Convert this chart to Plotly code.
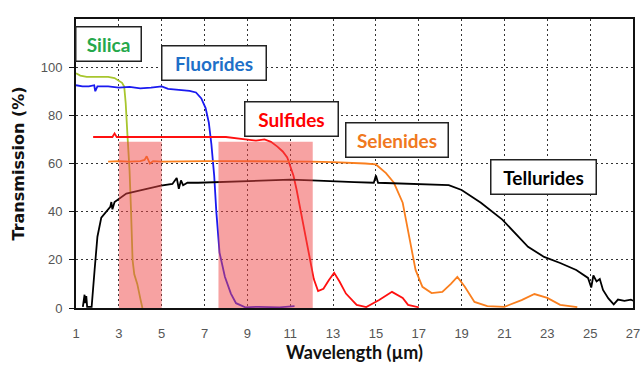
import plotly.graph_objects as go

# ---- data ----
silica_x = [1.0, 1.2, 1.5, 2.0, 2.5, 2.8, 3.0, 3.15, 3.25, 3.32, 3.4, 3.5, 3.57, 3.64, 3.72, 3.86, 4.0, 4.1]
silica_y = [97.5, 96.5, 96, 96, 96, 95.5, 94.5, 93.5, 92, 85, 72, 57, 40, 20, 14, 10, 4, 0]

fluor_x = [1.0, 1.3, 1.6, 1.85, 1.9, 2.0, 2.5, 3.0, 3.5, 4.0, 4.5, 5.0, 5.3, 5.8, 6.3, 6.6, 6.85,
           7.05, 7.2, 7.32, 7.45, 7.55, 7.7, 7.95, 8.23, 8.47, 8.9, 9.5, 10.5, 11.2]
fluor_y = [92.5, 92, 92, 92.5, 90, 92, 92, 91.5, 91.8, 91.2, 91.5, 92, 91, 90.6, 90.2, 89.5, 87,
           83, 77, 68, 55, 40, 23, 13, 6, 2, 0.3, 0.5, 0.3, 0.8]

sulf_x = [1.8, 2.3, 2.7, 2.8, 2.9, 3.2, 4.0, 5.0, 6.0, 7.0, 8.0, 8.9, 9.4, 9.8, 10.1, 10.4, 10.65,
          10.86, 11.0, 11.15, 11.3, 11.45, 11.6, 11.88, 12.1, 12.3, 12.55, 12.8, 13.05, 13.3, 13.6,
          14.1, 14.55, 15.15, 15.75, 16.25, 16.5, 17.0]
sulf_y = [71, 71, 71, 72.5, 71, 71, 71, 71, 71, 71, 71, 70, 69.5, 70, 69, 67, 65,
          62.5, 59, 55, 49, 42, 35, 23, 12, 7, 8, 11.5, 14.6, 11, 6,
          1.3, 0.4, 3.3, 6.7, 4.2, 1.3, 0.3]

selen_x = [2.5, 3.0, 3.5, 4.0, 4.2, 4.3, 4.45, 4.6, 5.0, 6.0, 7.0, 8.0, 9.0, 10.0, 11.0, 12.0, 13.0,
           13.8, 14.5, 15.0, 15.25, 15.47, 15.84, 16.25, 16.4, 16.6, 16.85, 17.17, 17.6, 18.1, 18.5,
           18.8, 19.15, 19.6, 20.2, 21.0, 21.8, 22.4, 23.0, 23.6, 24.4]
selen_y = [60.8, 61, 60.8, 61, 61.5, 63, 60, 61, 60.8, 61, 61, 61, 61, 61, 61, 60.8, 60.6,
           60.4, 60, 59.6, 57.5, 56, 52, 43.7, 36.7, 27, 15.8, 8.8, 6.2, 6.7, 10,
           12.9, 8.8, 2.5, 0.8, 0.5, 3.3, 5.8, 4.2, 1.3, 0.4]

tell_x = [1.32, 1.4, 1.42, 1.48, 1.52, 1.73, 1.87, 2.0, 2.18, 2.41, 2.6, 2.65, 2.7, 2.8, 3.35, 4.1,
          4.96, 5.5, 5.7, 5.8, 5.9, 6.0, 6.2, 6.7, 8.2, 9.5, 11.0, 12.0, 13.0, 14.0, 14.9, 15.0, 15.1,
          16.4, 17.3, 18.4, 19.0, 19.9, 20.9, 21.5, 22.1, 22.85, 23.6, 24.35, 24.9, 25.05, 25.15,
          25.3, 25.45, 25.6, 25.85, 26.1, 26.3, 26.6, 26.9, 27.0]
tell_y = [0.5, 5.5, 2, 5, 0.5, 0.5, 16, 29.6, 37.5, 40, 42, 44, 41, 44, 47.5, 49,
          50.8, 51.5, 54, 49.5, 53, 51, 52, 52, 52.5, 53, 53.3, 53, 52.5, 52.3, 52, 55, 52,
          51.7, 51.2, 51, 49, 43.7, 36.7, 31, 25.4, 21.2, 18.7, 15.8, 12.5, 8.5, 13.5,
          11, 12, 7.5, 4, 1.5, 3.5, 3, 3.5, 3]

bands_x0 = [3.0, 7.65]
bands_x1 = [5.0, 12.05]
band_top = 69

labels = ["Silica", "Fluorides", "Sulfides", "Selenides", "Tellurides"]
label_x = [2.52, 7.43, 11.05, 16.0, 22.84]
label_y = [109.8, 101.7, 78.3, 69.6, 54.6]
label_w = [64, 103, 92, 101, 104]
label_colors = ["#25A84B", "#1E70C8", "#FF0000", "#F07820", "#000000"]

x_ticks = list(range(1, 28, 2))
y_ticks = [0, 20, 40, 60, 80, 100]

# ---- figure ----
fig = go.Figure()
series = [
    (silica_x, silica_y, "#A8C62E"),
    (fluor_x, fluor_y, "#1A1AF0"),
    (sulf_x, sulf_y, "#FF1010"),
    (selen_x, selen_y, "#FA7F1E"),
    (tell_x, tell_y, "#000000"),
]
for xs, ys, c in series:
    fig.add_trace(go.Scatter(x=xs, y=ys, mode="lines", line=dict(color=c, width=1.8),
                             showlegend=False, hoverinfo="skip"))

for x0, x1 in zip(bands_x0, bands_x1):
    fig.add_shape(type="rect", xref="x", yref="y", x0=x0, x1=x1, y0=0, y1=band_top,
                  fillcolor="rgba(240,70,70,0.5)", line=dict(width=0), layer="above")

for t, x, y, w, c in zip(labels, label_x, label_y, label_w, label_colors):
    fig.add_annotation(x=x, y=y, xref="x", yref="y", text="<b>%s</b>" % t, showarrow=False,
                       font=dict(family="Lato, Open Sans, sans-serif", size=19, color=c),
                       bgcolor="white", bordercolor="#222", borderwidth=1.5, borderpad=0,
                       width=w, height=33, align="center", valign="middle")

fig.update_layout(
    width=644, height=367,
    margin=dict(l=76, r=4, t=19, b=59),
    paper_bgcolor="white", plot_bgcolor="white",
    font=dict(family="Liberation Sans Narrow, Arial Narrow, Liberation Sans, sans-serif",
              size=13, color="#555"),
)
fig.update_xaxes(
    range=[1, 27], tickvals=x_ticks, ticktext=[str(v) for v in x_ticks],
    showgrid=True, gridcolor="#333", gridwidth=1, griddash="2px,3px",
    showline=True, linecolor="#111", linewidth=2, mirror=True,
    ticks="", ticklabelstandoff=12, zeroline=False, ticklabeloverflow="allow",
    title=dict(text="<b>Wavelength (µm)</b>", standoff=4,
               font=dict(family="Lato, Open Sans, sans-serif", size=18, color="#111")),
)
fig.update_yaxes(
    range=[0, 120], tickvals=y_ticks, ticktext=[str(v) for v in y_ticks],
    showgrid=True, gridcolor="#333", gridwidth=1, griddash="2px,3px",
    showline=True, linecolor="#111", linewidth=2, mirror=True,
    ticks="outside", ticklen=5, tickcolor="#111", ticklabelstandoff=4, zeroline=False,
    title=dict(text="<b>Transmission (%)</b>", standoff=12,
               font=dict(family="DejaVu Sans, sans-serif", size=16, color="#111")),
)

fig.write_html("out.html")
